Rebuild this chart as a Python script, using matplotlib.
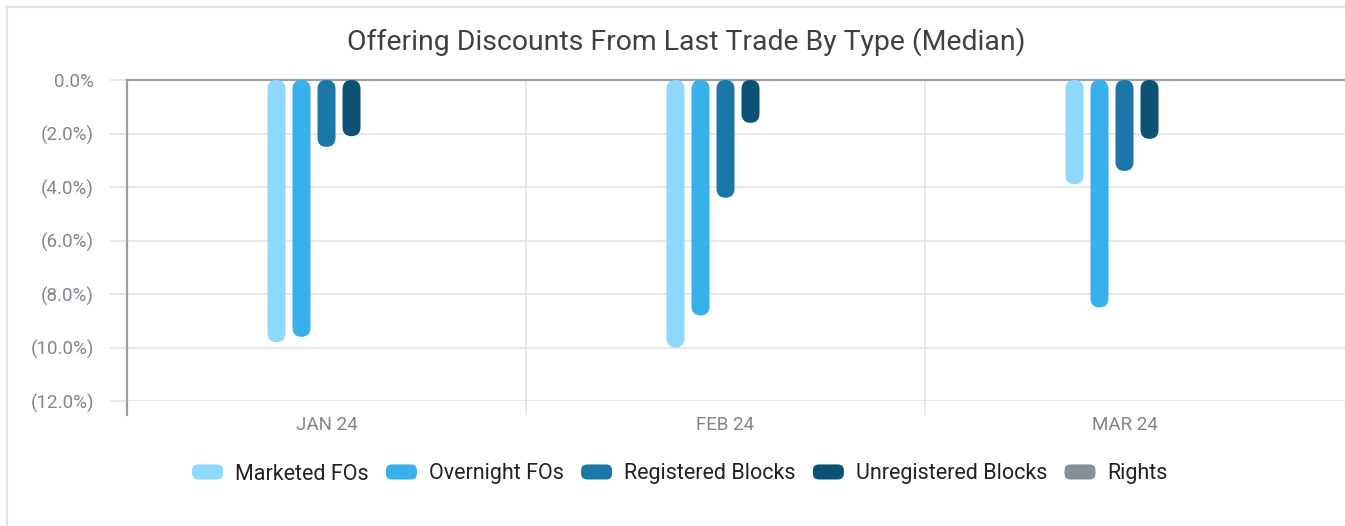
import matplotlib
matplotlib.use("Agg")
import matplotlib.pyplot as plt
from matplotlib.patches import FancyBboxPatch
from matplotlib.legend_handler import HandlerPatch
from matplotlib.lines import Line2D

plt.rcParams['font.family'] = ['Roboto', 'DejaVu Sans']

months = ['JAN 24', 'FEB 24', 'MAR 24']
series = ['Marketed FOs', 'Overnight FOs', 'Registered Blocks', 'Unregistered Blocks', 'Rights']
colors = ['#8fd8ff', '#38b0ec', '#1b77a8', '#0d5275', '#878f96']

marketed = [-9.8, -10.0, -3.9]
overnight = [-9.6, -8.8, -8.5]
registered = [-2.5, -4.4, -3.4]
unregistered = [-2.1, -1.6, -2.2]
rights = [None, None, None]

yticks = [0, -2, -4, -6, -8, -10, -12]
ytick_labels = ['0.0%', '(2.0%)', '(4.0%)', '(6.0%)', '(8.0%)', '(10.0%)', '(12.0%)']

W, H = 1345, 526
fig = plt.figure(figsize=(W / 100, H / 100), dpi=100)
ax = fig.add_axes([127 / W, 1 - 401 / H, 1 - 127 / W, (401 - 80) / H])

ax.set_ylim(-12, 0)
ax.set_xlim(-0.5, -0.5 + (W - 127) / 399)

# bar geometry in data units (px -> units)
step = 25 / 399
bw = 18 / 399
aspect = (12 / 321) * 399

all_vals = [marketed, overnight, registered, unregistered, rights]
for i, vals in enumerate(all_vals):
    off = (i - 2) * step
    for j, v in enumerate(vals):
        if v is None:
            continue
        p = FancyBboxPatch((j + off - bw / 2, v), bw, -v,
                           boxstyle="round,pad=0,rounding_size=%f" % (bw / 2),
                           mutation_aspect=aspect,
                           fc=colors[i], ec='none', zorder=3)
        ax.add_patch(p)

grid_c = '#e2e2e2'
axis_c = '#9aa0a6'
lab_c = '#80868b'

ax.set_yticks(yticks)
ax.set_yticklabels(ytick_labels)
ax.tick_params(axis='y', length=12.2, width=1.1, color=grid_c, pad=11.5,
               labelsize=13.5, labelcolor=lab_c)
ax.grid(axis='y', color=grid_c, lw=1.1, zorder=0)

ax.set_xticks([-0.5, 0.5, 1.5])
ax.set_xticklabels([])
ax.set_xticks([0, 1, 2], minor=True)
ax.set_xticklabels(months, minor=True)
ax.tick_params(axis='x', which='major', length=10, width=1.1, color=grid_c)
ax.tick_params(axis='x', which='minor', length=0, pad=11, labelsize=13.5, labelcolor=lab_c)
ax.grid(axis='x', which='major', color=grid_c, lw=1.1, zorder=0)

for s in ['right', 'bottom']:
    ax.spines[s].set_visible(False)
ax.spines['top'].set_color(axis_c)
ax.spines['top'].set_linewidth(1.6)
ax.spines['left'].set_color(axis_c)
ax.spines['left'].set_linewidth(1.6)
ax.spines['left'].set_bounds(-12.52, 0)

fig.text(686 / W, 1 - 42 / H, 'Offering Discounts From Last Trade By Type (Median)',
         ha='center', va='center', fontsize=20.4, color='#404040',
         family=['Liberation Sans Narrow', 'Roboto'])


def pill(legend, orig_handle, xdescent, ydescent, width, height, fontsize):
    return FancyBboxPatch((-xdescent, -ydescent), width, height,
                          boxstyle="round,pad=0,rounding_size=%f" % (height * 0.4))


handles = [plt.Rectangle((0, 0), 1, 1, fc=c, ec='none') for c in colors]
leg = fig.legend(handles, series, loc='center', bbox_to_anchor=(680 / W, 1 - 474 / H),
                 ncol=5, frameon=False, fontsize=15.5, handlelength=1.44, handleheight=0.7,
                 handletextpad=0.56, columnspacing=0.8, labelcolor='#202124',
                 handler_map={plt.Rectangle: HandlerPatch(patch_func=pill)})

# outer frame
fig.add_artist(Line2D([6.5 / W, 1], [1 - 6.5 / H, 1 - 6.5 / H], color='#e3e3e3', lw=1.5))
fig.add_artist(Line2D([6.5 / W, 6.5 / W], [0, 1 - 6.5 / H], color='#e3e3e3', lw=1.5))

fig.savefig('out.png', dpi=100)
